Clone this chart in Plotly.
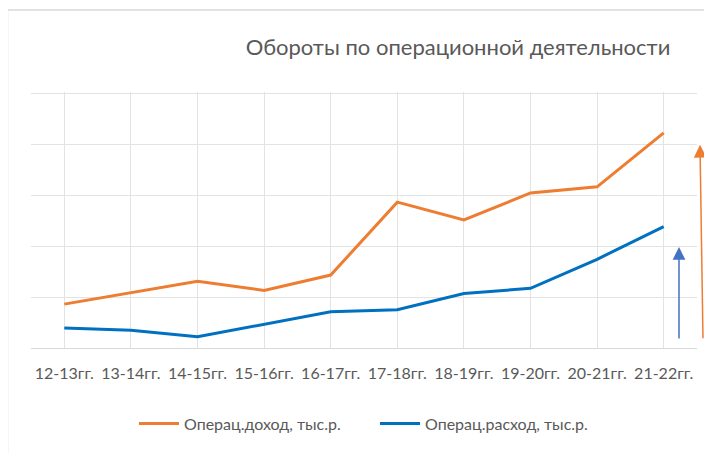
import plotly.graph_objects as go

categories = ["12-13гг.", "13-14гг.", "14-15гг.", "15-16гг.", "16-17гг.",
              "17-18гг.", "18-19гг.", "19-20гг.", "20-21гг.", "21-22гг."]
income = [0.86, 1.09, 1.31, 1.13, 1.43, 2.86, 2.51, 3.04, 3.16, 4.22]
expense = [0.39, 0.35, 0.22, 0.47, 0.71, 0.75, 1.07, 1.17, 1.74, 2.38]
income_name = "Операц.доход, тыс.р."
expense_name = "Операц.расход, тыс.р."
title_text = "Обороты по операционной деятельности"

FONT = "Lato, 'Noto Sans', sans-serif"
GRAY = "#595959"
GRID = "#E3E3E3"

# the page body adds an 8px offset; figure is sized to fit the window
OFF = 8
W, H = 712 - OFF, 453 - OFF
L, R = 31 - OFF, 15
T, B = 92.3 - OFF, H - (347.7 - OFF)


def fx(s):
    """screen x pixel -> paper x"""
    return (s - OFF - L) / (W - L - R)


def fy(s):
    """screen y pixel -> paper y"""
    return (H - B - (s - OFF)) / (H - T - B)


fig = go.Figure()
fig.add_trace(go.Scatter(x=list(range(len(categories))), y=income, mode="lines",
                         name=income_name, line=dict(color="#ED7D31", width=3)))
fig.add_trace(go.Scatter(x=list(range(len(categories))), y=expense, mode="lines",
                         name=expense_name, line=dict(color="#0070C0", width=3)))

ITEMW = 40
fig.update_layout(
    width=W, height=H,
    margin=dict(l=L, r=R, t=T, b=B, autoexpand=False),
    paper_bgcolor="white", plot_bgcolor="white",
    font=dict(family=FONT, color=GRAY, size=16),
    title=dict(text=title_text, xref="container", yref="container",
               x=(458 - OFF) / W, y=1 - (47 - OFF) / H,
               xanchor="center", yanchor="middle",
               font=dict(family=FONT, size=22, color=GRAY)),
    xaxis=dict(range=[-0.5, 9.5], tickmode="array",
               tickvals=list(range(len(categories))), ticktext=categories,
               showgrid=True, gridcolor=GRID, gridwidth=1,
               showline=True, linecolor="#D9D9D9", linewidth=1,
               ticks="", zeroline=False, fixedrange=True,
               ticklabelstandoff=11,
               tickfont=dict(family=FONT, size=16, color=GRAY)),
    yaxis=dict(range=[0, 5.02], tickvals=[1, 2, 3, 4, 5], showticklabels=False,
               showgrid=True, gridcolor=GRID, gridwidth=1,
               zeroline=False, showline=False, ticks="", fixedrange=True),
    legend=dict(orientation="h", x=fx(134), xanchor="left",
                y=fy(423), yanchor="middle",
                entrywidth=241 - ITEMW - 15, entrywidthmode="pixels",
                itemwidth=ITEMW, borderwidth=0,
                font=dict(family=FONT, size=16, color=GRAY)),
    showlegend=True,
)

# chart border (left and top edges visible)
fig.add_shape(type="rect", xref="paper", yref="paper",
              x0=fx(7.5), x1=fx(740), y0=fy(480), y1=fy(10.5),
              line=dict(color="#D9D9D9", width=1.5), fillcolor="rgba(0,0,0,0)",
              layer="below")

# hand-drawn arrows at the right
fig.add_annotation(xref="paper", yref="paper", x=fx(679), y=fy(247),
                   ax=0, ay=93, axref="pixel", ayref="pixel", text="",
                   showarrow=True, arrowhead=2, arrowsize=1.7, arrowwidth=1.5,
                   arrowcolor="#4472C4", standoff=0)
fig.add_annotation(xref="paper", yref="paper", x=fx(700), y=fy(145),
                   ax=3, ay=195, axref="pixel", ayref="pixel", text="",
                   showarrow=True, arrowhead=2, arrowsize=1.7, arrowwidth=1.5,
                   arrowcolor="#ED7D31", standoff=0)

fig.write_html("out.html")
